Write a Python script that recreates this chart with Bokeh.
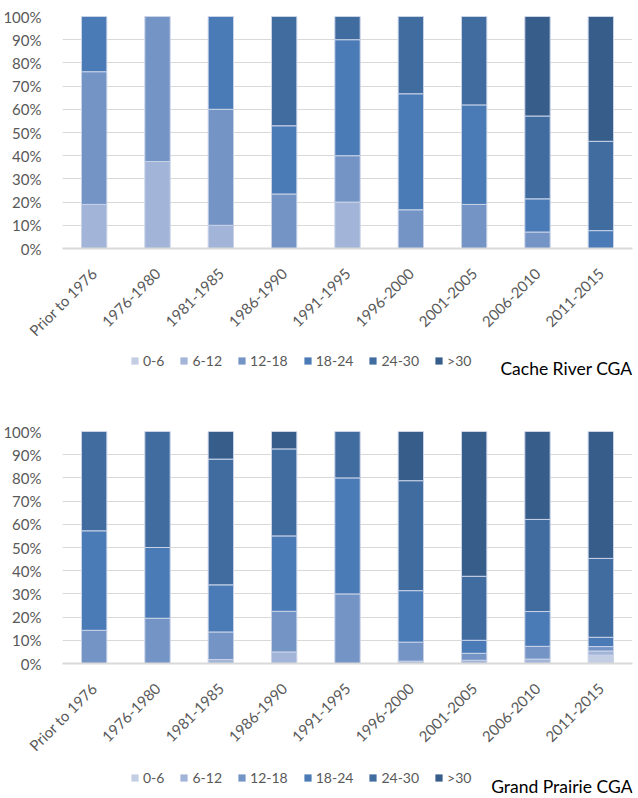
from math import pi

from bokeh.embed import file_html
from bokeh.layouts import column
from bokeh.models import (ColumnDataSource, FactorRange, FixedTicker, Label,
                          Legend, LegendItem, PrintfTickFormatter, Range1d)
from bokeh.plotting import figure
from bokeh.resources import INLINE

# Construction periods (x categories)
periods = ["Prior to 1976", "1976-1980", "1981-1985", "1986-1990", "1991-1995",
           "1996-2000", "2001-2005", "2006-2010", "2011-2015"]

# Depth-class series names, bottom to top of each stack
classes = ["0-6", "6-12", "12-18", "18-24", "24-30", ">30"]

# Cache River CGA: percent of wells in each class
cr_0_6 = [0, 0, 0, 0, 0, 0, 0, 0, 0]
cr_6_12 = [19.0, 37.5, 10.0, 0, 20.0, 0, 0, 0, 0]
cr_12_18 = [57.2, 62.5, 50.0, 23.5, 20.0, 16.7, 19.0, 7.1, 0]
cr_18_24 = [23.8, 0, 40.0, 29.4, 50.0, 50.0, 42.9, 14.3, 7.7]
cr_24_30 = [0, 0, 0, 47.1, 10.0, 33.3, 38.1, 35.7, 38.5]
cr_gt30 = [0, 0, 0, 0, 0, 0, 0, 42.9, 53.8]

# Grand Prairie CGA: percent of wells in each class
gp_0_6 = [0, 0, 0, 0, 0, 0, 0, 0, 3.6]
gp_6_12 = [0, 0, 1.7, 5.0, 0, 1.0, 1.4, 1.9, 1.8]
gp_12_18 = [14.3, 19.5, 11.9, 17.5, 30.0, 8.2, 3.0, 5.5, 1.9]
gp_18_24 = [42.9, 30.5, 20.3, 32.5, 50.0, 22.2, 5.6, 15.0, 4.0]
gp_24_30 = [42.8, 50.0, 54.2, 37.5, 20.0, 47.4, 27.6, 39.7, 34.0]
gp_gt30 = [0, 0, 11.9, 7.5, 0, 21.2, 62.4, 37.9, 54.7]

colors = ["#C3CDE4", "#A2B4D7", "#7494C6", "#4A7BB6", "#416CA0", "#375D8B"]

FONT = "Lato"
GRAY = "#595959"
GRID = "#D9D9D9"


def stacked_chart(series, height, top, bottom):
    data = {"period": periods}
    for name, vals in zip(classes, series):
        data[name] = vals
    src = ColumnDataSource(data)

    p = figure(x_range=FactorRange(*periods, range_padding=0),
               y_range=Range1d(0, 100),
               width=638, height=height,
               output_backend="svg", toolbar_location=None,
               min_border_left=61, min_border_right=6,
               min_border_top=top, min_border_bottom=bottom)
    p.outline_line_color = None
    p.background_fill_color = "white"
    p.border_fill_color = "white"

    p.vbar_stack(classes, x="period", width=0.4, source=src,
                 color=colors, line_color="#C9D3E8", line_width=1)

    # y axis: percent ticks, no axis line
    p.yaxis.ticker = FixedTicker(ticks=list(range(0, 101, 10)))
    p.yaxis.formatter = PrintfTickFormatter(format="%d%%")
    p.yaxis.axis_line_color = None
    p.yaxis.major_tick_line_color = None
    p.yaxis.minor_tick_line_color = None
    p.yaxis.major_label_standoff = 15
    p.yaxis.major_label_text_font = FONT
    p.yaxis.major_label_text_font_size = "15px"
    p.yaxis.major_label_text_color = GRAY

    # x axis with rotated period labels
    p.xaxis.axis_line_color = GRID
    p.xaxis.axis_line_width = 2
    p.xaxis.major_tick_line_color = None
    p.xaxis.minor_tick_line_color = None
    p.xaxis.major_label_orientation = pi / 4
    p.xaxis.major_label_standoff = 16
    p.xaxis.major_label_text_font = FONT
    p.xaxis.major_label_text_font_size = "15px"
    p.xaxis.major_label_text_color = GRAY

    p.xgrid.grid_line_color = None
    p.ygrid.ticker = FixedTicker(ticks=list(range(10, 101, 10)))
    p.ygrid.grid_line_color = GRID
    p.ygrid.grid_line_width = 1
    return p


def footer(title, height, legend_y, title_y):
    """Strip under a chart holding the series legend and the chart name."""
    f = figure(width=638, height=height, x_range=Range1d(0, 10),
               y_range=Range1d(0, 10), output_backend="svg",
               toolbar_location=None, min_border_left=61, min_border_right=6,
               min_border_top=0, min_border_bottom=0,
               x_axis_type=None, y_axis_type=None)
    f.outline_line_color = None
    f.xgrid.grid_line_color = None
    f.ygrid.grid_line_color = None

    # one zero-height bar per class, used only as legend swatches
    swatches = [f.vbar(x=[-100], top=[0], width=1, fill_color=c, line_color=None)
                for c in colors]
    items = [LegendItem(label=name, renderers=[r]) for name, r in zip(classes, swatches)]
    f.add_layout(Legend(items=items, orientation="horizontal", location=(68, legend_y),
                        glyph_width=9, glyph_height=9, label_standoff=4, spacing=15,
                        padding=0, margin=0, label_height=16,
                        label_text_font=FONT, label_text_font_size="14px",
                        label_text_color=GRAY, border_line_alpha=0,
                        background_fill_alpha=0), "center")

    f.add_layout(Label(x=570, y=title_y, x_units="screen", y_units="screen",
                       text=title, text_align="right", text_baseline="alphabetic",
                       text_font=FONT, text_font_size="17.5px", text_color="black"))
    return f


p1 = stacked_chart([cr_0_6, cr_6_12, cr_12_18, cr_18_24, cr_24_30, cr_gt30], 353, 16, 105)
f1 = footer("Cache River CGA", 57, 41, 42)
p2 = stacked_chart([gp_0_6, gp_6_12, gp_12_18, gp_18_24, gp_24_30, gp_gt30], 358, 21, 105)
f2 = footer("Grand Prairie CGA", 30, 12, 12)

layout = column(p1, f1, p2, f2, spacing=0)

open("out.html", "w").write(file_html(layout, INLINE))
